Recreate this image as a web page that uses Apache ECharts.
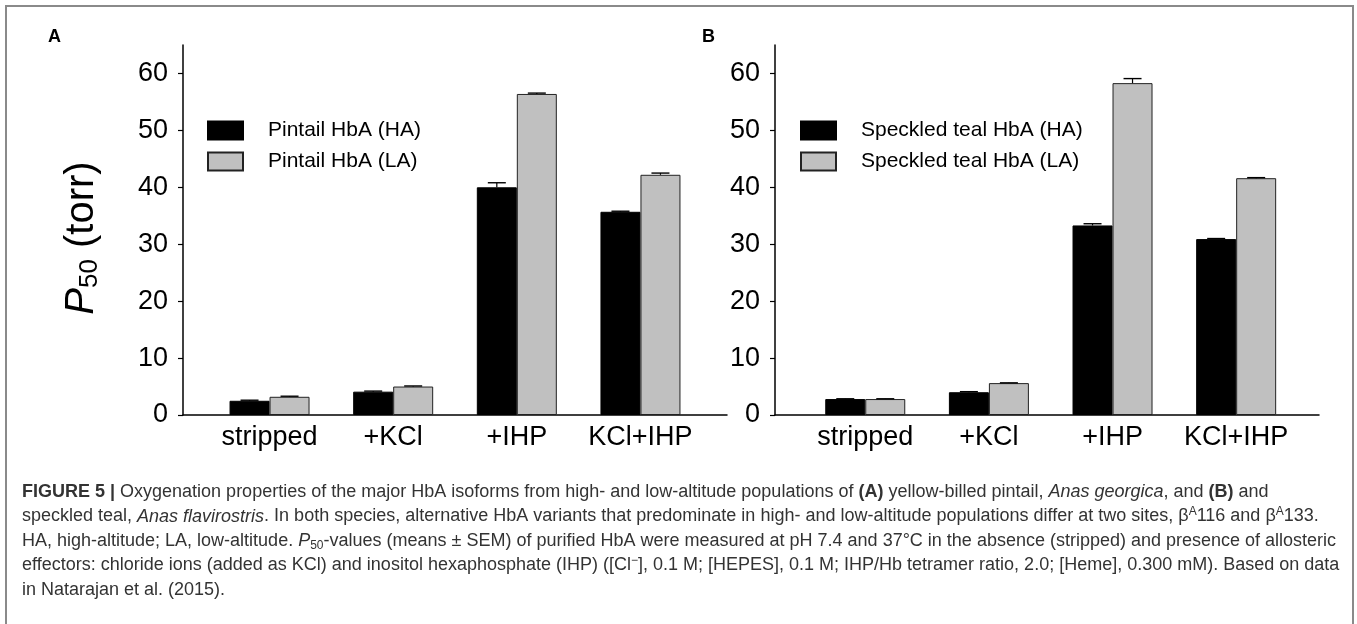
<!DOCTYPE html>
<html><head><meta charset="utf-8">
<script src="https://cdn.jsdelivr.net/npm/echarts@6/dist/echarts.min.js"></script>
<style>html,body{margin:0;padding:0;background:#fff}#c{width:1357px;height:624px}</style>
</head><body><div id="c"></div>
<script>
const categories = ['stripped', '+KCl', '+IHP', 'KCl+IHP'];
const yTicks = [0, 10, 20, 30, 40, 50, 60];
const catPositions = [1, 2, 3, 4];
const pintailHA = [2.5, 4.1, 40.0, 35.7];
const pintailHAErr = [0.1, 0.1, 0.8, 0.1];
const pintailLA = [3.2, 5.0, 56.4, 42.2];
const pintailLAErr = [0.1, 0.1, 0.15, 0.3];
const tealHA = [2.8, 4.0, 33.3, 30.9];
const tealHAErr = [0.05, 0.1, 0.3, 0.1];
const tealLA = [2.8, 5.6, 58.3, 41.6];
const tealLAErr = [0.05, 0.05, 0.8, 0.1];
const seriesNames = ['Pintail HbA (HA)', 'Pintail HbA (LA)', 'Speckled teal HbA (HA)', 'Speckled teal HbA (LA)'];
const captionLines = [
  '{b|FIGURE 5 |} Oxygenation properties of the major HbA isoforms from high- and low-altitude populations of {b|(A)} yellow-billed pintail, {i|Anas georgica}, and {b|(B)} and',
  'speckled teal, {i|Anas flavirostris}. In both species, alternative HbA variants that predominate in high- and low-altitude populations differ at two sites, β{sup|A}116 and β{sup|A}133.',
  'HA, high-altitude; LA, low-altitude. {i|P}{sub|50}-values (means ± SEM) of purified HbA were measured at pH 7.4 and 37°C in the absence (stripped) and presence of allosteric',
  'effectors: chloride ions (added as KCl) and inositol hexaphosphate (IHP) ([Cl{sup|−}], 0.1 M; [HEPES], 0.1 M; IHP/Hb tetramer ratio, 2.0; [Heme], 0.300 mM). Based on data',
  'in {g|Natarajan et al. (2015)}.'
];

const FF = 'Liberation Sans, Arial, sans-serif';
const chart = echarts.init(document.getElementById('c'), null, {renderer: 'canvas'});

function pairs(vals) { return vals.map((v, i) => [catPositions[i], v]); }
function triples(vals, errs) { return vals.map((v, i) => [catPositions[i], v, errs[i]]); }

function errRenderer(offset) {
  return function (params, api) {
    const x = api.value(0), y = api.value(1), e = api.value(2);
    const p0 = api.coord([x, y]);
    const p1 = api.coord([x, y + e]);
    const cx = p0[0] + offset;
    return {
      type: 'group',
      children: [
        {type: 'line', shape: {x1: cx, y1: p0[1], x2: cx, y2: p1[1]}, style: {stroke: '#000', lineWidth: 1.2}},
        {type: 'line', shape: {x1: cx - 9, y1: p1[1], x2: cx + 9, y2: p1[1]}, style: {stroke: '#000', lineWidth: 1.4}}
      ]
    };
  };
}

function makeX(idx, mn, mx) {
  return {
    gridIndex: idx, type: 'value', min: mn, max: mx,
    axisLine: {show: true, lineStyle: {color: '#000', width: 1.5}},
    axisTick: {show: false},
    splitLine: {show: false},
    axisLabel: {
      customValues: catPositions, margin: 9,
      formatter: v => categories[Math.round(v) - 1],
      fontSize: 27, fontFamily: FF, color: '#000'
    }
  };
}
function makeY(idx) {
  return {
    gridIndex: idx, type: 'value', min: 0, max: 65,
    axisLine: {show: true, lineStyle: {color: '#000', width: 1.5}},
    axisTick: {show: true, customValues: yTicks, length: 5, lineStyle: {color: '#000', width: 1.2}},
    splitLine: {show: false},
    axisLabel: {customValues: yTicks, margin: 15, fontSize: 27, fontFamily: FF, color: '#000'}
  };
}

const blackStyle = {color: '#000', borderColor: '#000', borderWidth: 1};
const grayStyle = {color: '#c0c0c0', borderColor: '#222', borderWidth: 1};

function barSeries(name, vals, axisIdx, style) {
  return {name, type: 'bar', xAxisIndex: axisIdx, yAxisIndex: axisIdx, data: pairs(vals),
    barWidth: 40, barGap: '0%', itemStyle: style, animation: false};
}
function errSeries(vals, errs, axisIdx, offset) {
  return {type: 'custom', xAxisIndex: axisIdx, yAxisIndex: axisIdx, data: triples(vals, errs),
    renderItem: errRenderer(offset), z: 5, animation: false, silent: true};
}

const CF = 18;
const captionGraphics = captionLines.map((t, i) => ({
  type: 'text', x: 22, y: 492 + i * 24.5,
  style: {
    text: t, fontSize: CF, fontFamily: FF, fill: '#333', verticalAlign: 'middle', align: 'left',
    rich: {
      b: {fontSize: CF, fontFamily: FF, fontWeight: 'bold', color: '#333'},
      i: {fontSize: CF, fontFamily: FF, fontStyle: 'italic', color: '#333'},
      g: {fontSize: CF, fontFamily: FF, color: '#888'},
      sup: {fontSize: 12, fontFamily: FF, color: '#333', padding: [0, 0, 10, 0]},
      sub: {fontSize: 12, fontFamily: FF, color: '#333', padding: [9, 0, 0, 0]}
    }
  }
}));

const option = {
  backgroundColor: '#fff',
  animation: false,
  grid: [
    {left: 183, top: 45, width: 544, height: 370},
    {left: 775, top: 45, width: 544, height: 370}
  ],
  xAxis: [makeX(0, 0.3, 4.7), makeX(1, 0.27, 4.67)],
  yAxis: [makeY(0), makeY(1)],
  legend: [
    {data: [seriesNames[0], seriesNames[1]], orient: 'vertical', left: 207, top: 120, itemWidth: 35, itemHeight: 18,
     itemGap: 10, padding: 0, selectedMode: false, icon: 'rect',
     textStyle: {fontSize: 21, fontFamily: FF, color: '#000', padding: [0, 0, 0, 20]}},
    {data: [seriesNames[2], seriesNames[3]], orient: 'vertical', left: 800, top: 120, itemWidth: 35, itemHeight: 18,
     itemGap: 10, padding: 0, selectedMode: false, icon: 'rect',
     textStyle: {fontSize: 21, fontFamily: FF, color: '#000', padding: [0, 0, 0, 20]}}
  ],
  series: [
    barSeries(seriesNames[0], pintailHA, 0, blackStyle),
    barSeries(seriesNames[1], pintailLA, 0, grayStyle),
    barSeries(seriesNames[2], tealHA, 1, blackStyle),
    barSeries(seriesNames[3], tealLA, 1, grayStyle),
    errSeries(pintailHA, pintailHAErr, 0, -20),
    errSeries(pintailLA, pintailLAErr, 0, 20),
    errSeries(tealHA, tealHAErr, 1, -20),
    errSeries(tealLA, tealLAErr, 1, 20)
  ],
  graphic: [
    {type: 'rect', shape: {x: 6, y: 6, width: 1347, height: 640}, style: {fill: 'none', stroke: '#8a8a8a', lineWidth: 2}, silent: true},
    {type: 'text', x: 48, y: 37, style: {text: 'A', fontSize: 18, fontWeight: 'bold', fontFamily: FF, fill: '#000', verticalAlign: 'middle'}},
    {type: 'text', x: 702, y: 37, style: {text: 'B', fontSize: 18, fontWeight: 'bold', fontFamily: FF, fill: '#000', verticalAlign: 'middle'}},
    {type: 'text', x: 82, y: 238, rotation: Math.PI / 2,
     style: {text: '{i|P}{sub|50}{n| (torr)}', align: 'center', verticalAlign: 'middle', fontFamily: FF, fontSize: 40, fill: '#000',
       rich: {
         i: {fontSize: 40, fontStyle: 'italic', fontFamily: FF, color: '#000'},
         n: {fontSize: 40, fontFamily: FF, color: '#000'},
         sub: {fontSize: 26, fontFamily: FF, color: '#000', padding: [16, 0, 0, 0]}
       }}},
    ...captionGraphics
  ]
};
chart.setOption(option);
</script>
</body></html>
